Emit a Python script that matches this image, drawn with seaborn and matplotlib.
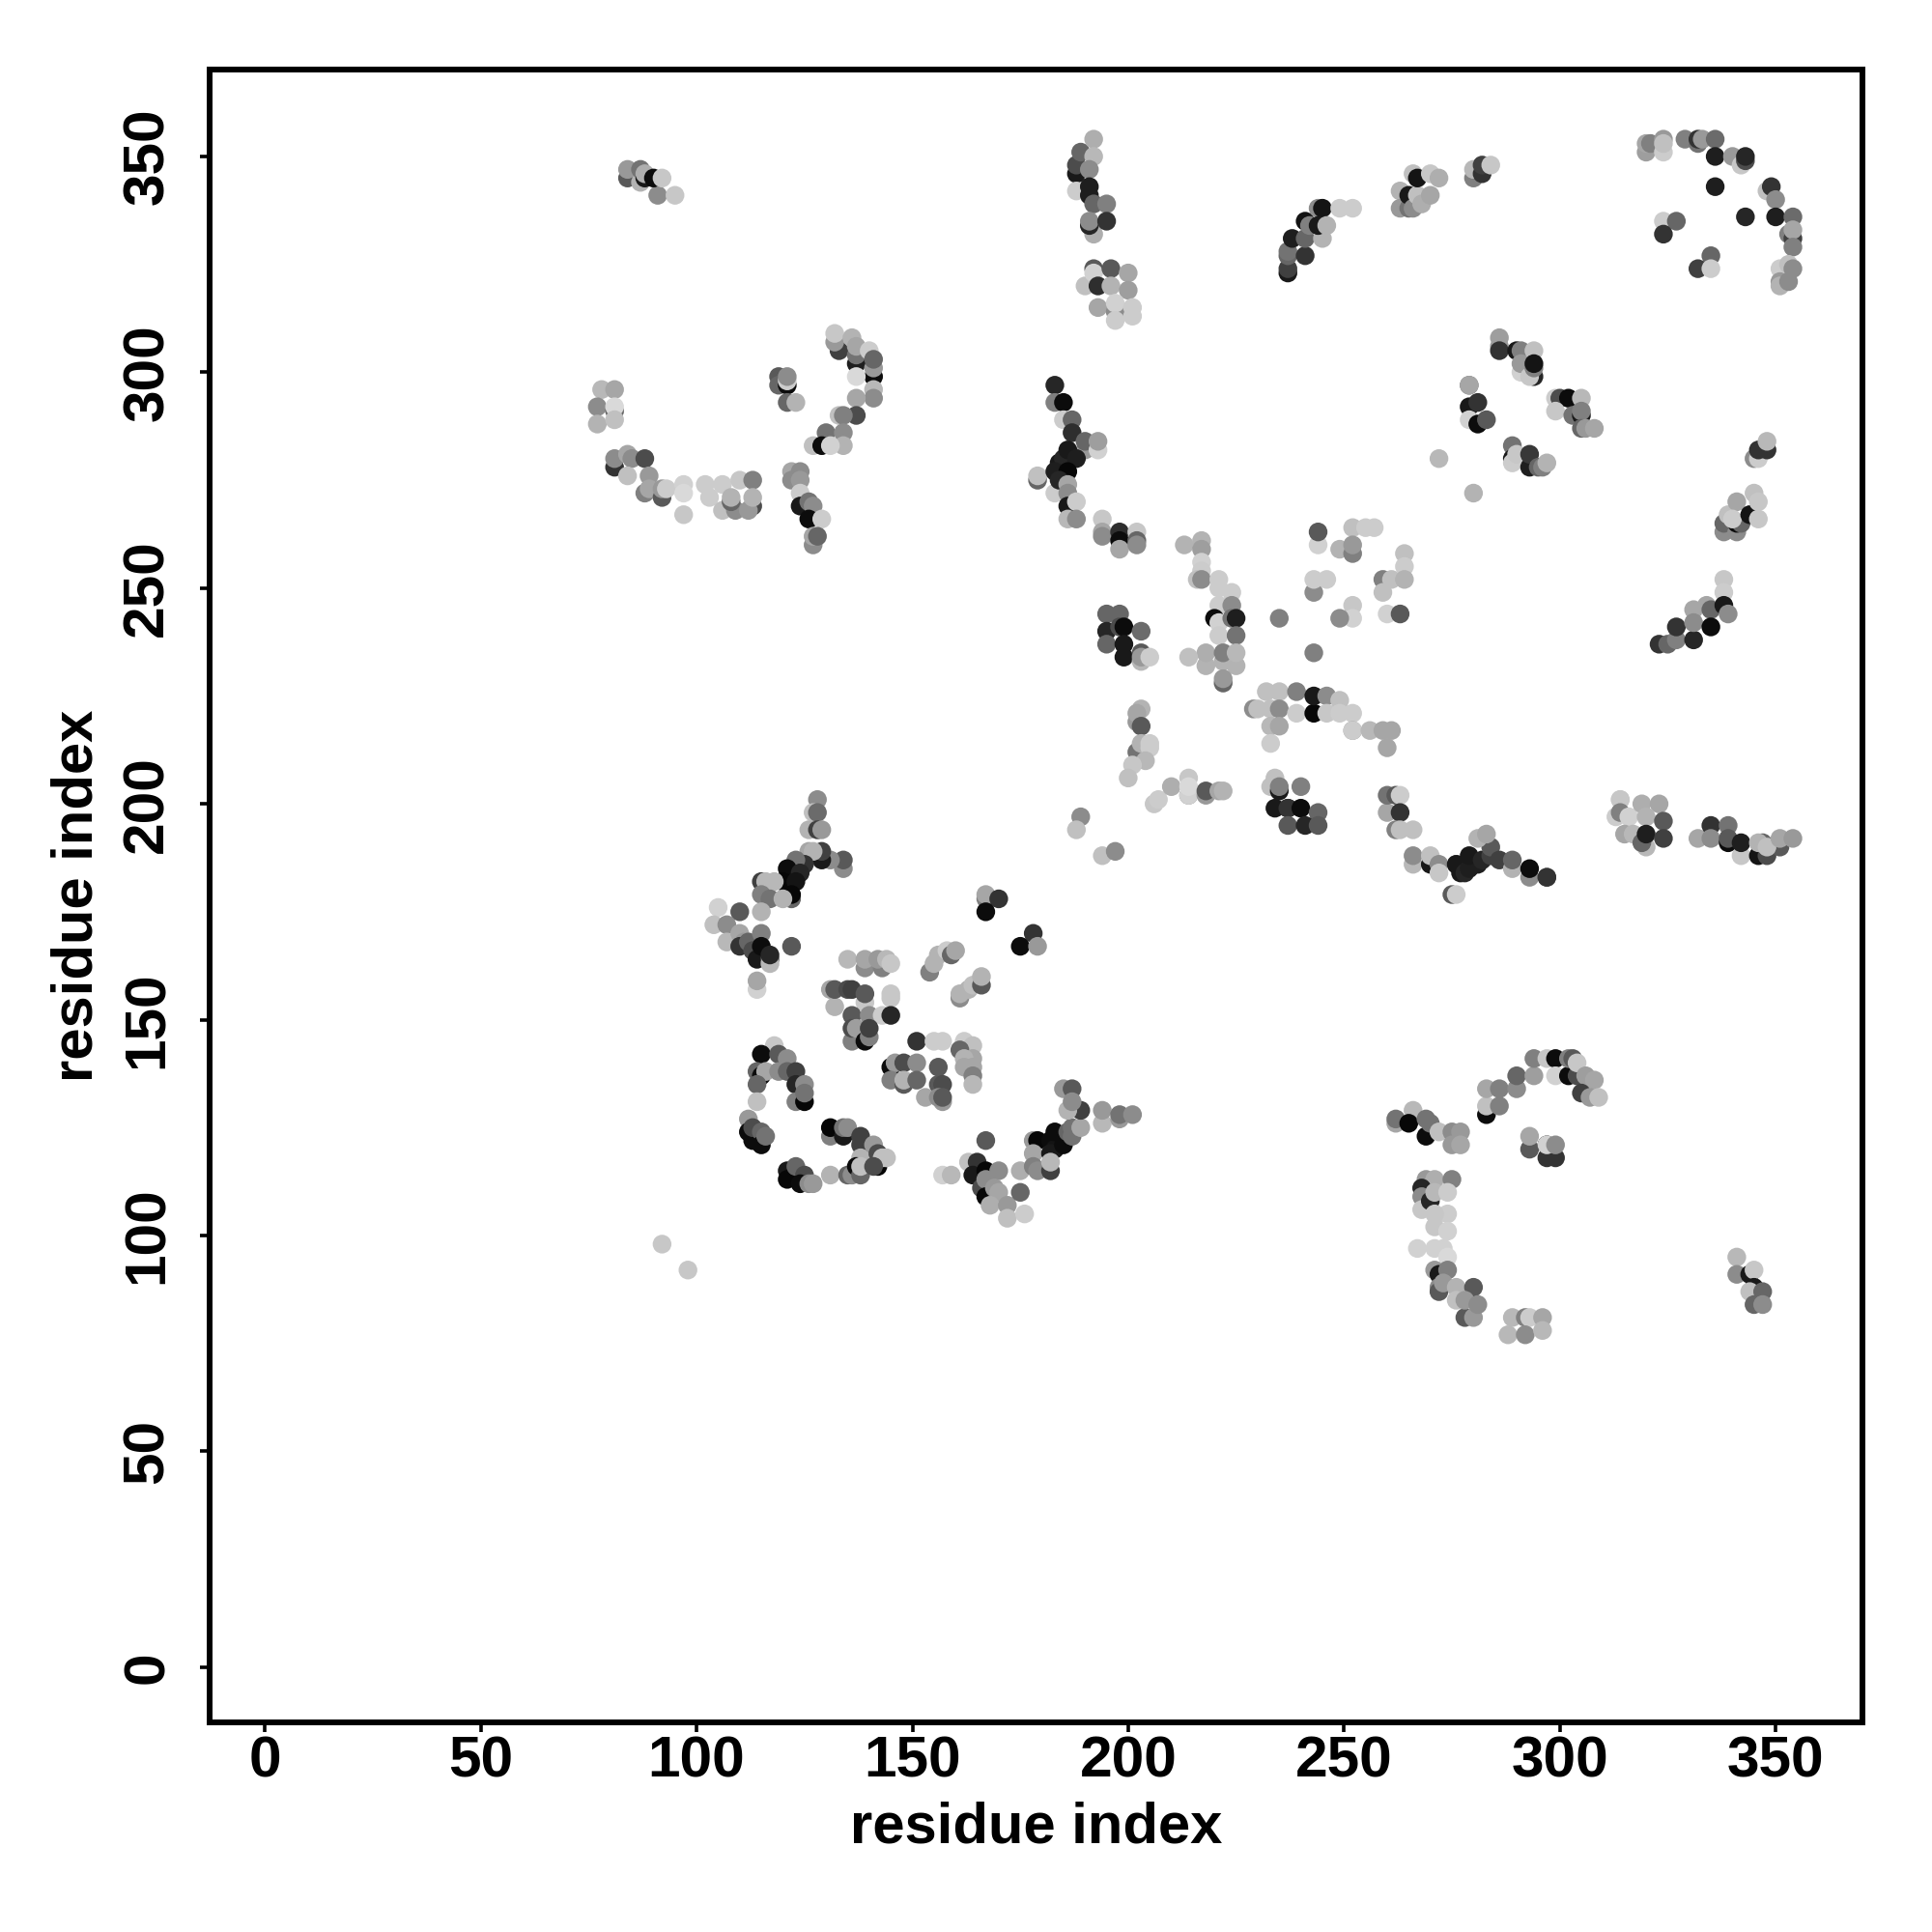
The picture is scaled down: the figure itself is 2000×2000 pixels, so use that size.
import matplotlib
matplotlib.use("Agg")
import matplotlib.pyplot as plt
import pandas as pd
import seaborn as sns

tick_values = [0, 50, 100, 150, 200, 250, 300, 350]
axis_label = "residue index"

# each contact: (residue i, residue j, grey level)
upper_left = [(84,345,.35),(84,347,.6),(87,344,.7),(87,347,.45),(88,345,.1),(88,346,.68),(91,341,.55),(90,345,.05),(92,345,.78),(95,341,.78),
 (78,296,.72),(81,296,.65),(77,292,.55),(81,291,.4),(81,292,.85),(77,288,.7),(81,289,.75),
 (81,278,.2),(81,280,.55),(84,281,.65),(85,280,.55),(88,280,.3),(84,276,.75),(89,276,.6),(88,272,.5),(89,273,.65),(92,271,.35),(92,273,.6),(93,273,.8),(97,274,.82),(97,272,.85),(97,267,.78),
 (102,274,.8),(103,271,.8),(106,274,.8),(106,268,.75),(109,268,.55),(108,270,.4),(108,271,.7),(110,275,.78),(113,269,.3),(112,268,.6),(113,275,.5),(113,271,.7),
 (119,299,.35),(119,297,.4),(121,297,.05),(121,298,.8),(121,299,.55),(121,293,.4),(123,293,.7),
 (133,305,.25),(132,307,.6),(132,309,.78),(136,308,.7),(137,302,.12),(137,304,.45),(137,306,.65),(140,305,.8),(141,299,.05),(141,301,.6),(141,303,.4),(137,299,.85),(141,296,.72),(141,294,.55),(137,294,.65),(137,290,.3),(133,290,.75),(134,290,.5),(130,286,.45),(134,286,.55),(134,283,.7),(127,283,.75),(129,283,.05),(131,283,.82),
 (122,277,.65),(124,277,.55),(122,275,.55),(124,275,.6),(124,272,.8),(124,269,.1),(126,270,.45),(127,269,.55),(126,266,.05),(129,266,.8),(127,260,.55),(127,262,.65),(128,262,.4)]

upper_mid = [(188,346,.1),(188,348,.3),(189,351,.4),(188,342,.8),(192,354,.68),(192,350,.72),(191,347,.55),(191,343,.12),(191,341,.12),(192,339,.4),(195,339,.5),(192,332,.68),(191,334,.15),(191,335,.55),(195,335,.2),
 (190,320,.75),(192,324,.35),(192,323,.82),(193,320,.18),(196,324,.35),(196,320,.7),(200,323,.65),(200,319,.62),(193,315,.65),(197,314,.55),(197,316,.82),(197,312,.8),(201,315,.8),(201,313,.8),
 (179,275,.4),(179,276,.75),(183,297,.15),(183,293,.5),(185,293,.05),(185,289,.8),(187,289,.4),(187,286,.18),(190,282,.6),(190,284,.4),(193,282,.82),(193,284,.62),(183,272,.8),(184,279,.1),(185,280,.15),(186,282,.1),(188,280,.12),(183,277,.12),(186,277,.03),(184,275,.15),(186,274,.65),(186,272,.55),(186,269,.1),(188,270,.8),(186,266,.72),(188,266,.55),
 (194,266,.78),(194,263,.65),(194,262,.55),(198,263,.18),(198,261,.05),(198,259,.65),(202,263,.78),(202,261,.4),(202,260,.55)]

upper_right = [(237,323,.1),(237,324,.25),(237,327,.4),(237,328,.45),(241,327,.2),(238,331,.12),(241,331,.4),(241,335,.08),(242,334,.5),(245,331,.7),(244,338,.55),(245,338,.08),(244,334,.1),(246,334,.7),(249,338,.8),(252,338,.8),
 (263,342,.7),(263,338,.6),(265,338,.45),(265,341,.1),(266,338,.55),(267,341,.75),(268,339,.68),(270,341,.65),(266,346,.75),(267,345,.08),(270,346,.78),(272,345,.68),
 (280,345,.5),(280,347,.72),(282,346,.2),(282,348,.25),(284,348,.78),
 (320,351,.62),(320,353,.65),(321,353,.5),(324,351,.8),(324,354,.6),(324,353,.75),(329,354,.5),(332,353,.45),(332,354,.2),(333,354,.6),(336,354,.42),(336,350,.12),(340,350,.6),(342,348,.78),(343,349,.3),(343,350,.15),
 (336,343,.12),(348,342,.75),(349,343,.2),(350,340,.55),(343,336,.15),(350,336,.12),(354,336,.42),(353,332,.5),(354,331,.25),(354,333,.65),(354,329,.5),
 (324,335,.8),(327,335,.4),(324,332,.2),(335,327,.4),(332,324,.25),(335,324,.8),(351,324,.8),(353,325,.75),(354,324,.55),(351,321,.6),(351,320,.7),(353,321,.55),
 (286,306,.6),(286,308,.62),(286,305,.2),(290,305,.1),(291,305,.5),(291,300,.82),(291,302,.6),(294,305,.75),(294,299,.15),(293,299,.78),(294,301,.5),(294,302,.08),
 (279,297,.4),(279,297,.65),(279,292,.1),(281,293,.2),(279,289,.82),(281,288,.05),(283,289,.35),
 (299,294,.8),(300,294,.3),(302,294,.05),(305,294,.72),(299,291,.78),(303,290,.45),(305,290,.1),(305,291,.5),(305,287,.4),(306,287,.6),(308,287,.65),
 (272,280,.72),(280,272,.7),
 (289,283,.45),(289,280,.1),(289,279,.8),(290,281,.78),(293,278,.12),(293,281,.22),(295,278,.4),(296,278,.5),(297,279,.7),
 (345,280,.55),(346,280,.8),(346,282,.2),(348,282,.2),(348,284,.72),
 (338,263,.55),(338,265,.4),(339,267,.75),(341,263,.55),(341,265,.05),(342,265,.4),(341,270,.65),(340,266,.8),(344,267,.08),(345,272,.75),(346,270,.78),(346,266,.78),
 (338,252,.78),(338,249,.8),(323,237,.2),(325,237,.4),(327,238,.5),(327,241,.2),(331,238,.15),(331,245,.65),(331,242,.55),(334,246,.65),(335,245,.4),(335,241,.05),(338,246,.1),(339,244,.55)]

centre = [(213,260,.7),(217,261,.7),(217,259,.62),(217,256,.82),(217,254,.8),(216,252,.75),(217,252,.55),(221,252,.8),(221,250,.8),(224,249,.8),(221,246,.8),(224,246,.55),
 (220,243,.05),(221,242,.82),(224,243,.45),(225,243,.12),(221,239,.8),(225,239,.45),(218,232,.7),(218,235,.68),(214,234,.75),(222,233,.7),(222,235,.5),(225,232,.7),(225,235,.72),(222,228,.4),(222,229,.6),
 (235,243,.5),(243,235,.5),(244,260,.82),(244,263,.35),(249,259,.7),(252,258,.5),(252,264,.75),(252,260,.6),(257,264,.8),(255,264,.8),(243,249,.55),(243,252,.8),(246,252,.8),(252,246,.78),(252,243,.82),(249,243,.55),(259,252,.5),(261,252,.75),(264,258,.75),(264,255,.8),(264,252,.7),(259,249,.75),(260,244,.82),(263,244,.35),
 (195,244,.4),(198,244,.4),(195,240,.15),(198,241,.3),(199,241,.05),(195,237,.4),(199,237,.1),(199,234,.1),(203,240,.42),(203,233,.72),(203,235,.35),(203,234,.6),(205,234,.8),
 (202,219,.6),(203,222,.7),(202,221,.65),(203,218,.35),(202,212,.45),(203,214,.7),(205,214,.8),(205,213,.8),(204,210,.72),(201,209,.78),(200,206,.75),
 (206,200,.78),(207,201,.8),(210,204,.68),(214,202,.55),(214,206,.78),(214,202,.82),(214,204,.85),(218,202,.6),(218,203,.35),(221,203,.65),(222,203,.7),
 (234,206,.75),(233,204,.75),(235,203,.1),(235,204,.5),(240,204,.5),(234,199,.1),(237,199,.12),(237,199,.2),(240,199,.05),(244,198,.4),(237,195,.35),(241,195,.15),(244,195,.35),
 (260,198,.65),(260,202,.45),(262,202,.35),(263,202,.8),(263,198,.2),(262,194,.5),(263,194,.75),(266,194,.75),
 (229,222,.55),(230,222,.75),(232,226,.75),(235,226,.75),(233,222,.75),(235,222,.55),(233,218,.72),(235,218,.65),(233,214,.8),(239,226,.5),(239,221,.8),(243,221,.03),(243,225,.1),(246,225,.55),(249,224,.75),(246,221,.78),(249,221,.8),(252,221,.8),(252,217,.6),(252,217,.8),(256,217,.72),(259,217,.65),(261,217,.65),(260,213,.65),
 (189,197,.55),(188,194,.75),(194,188,.75),(197,189,.55)]

right_band = [(266,186,.72),(266,188,.55),(270,186,.1),(270,188,.75),(272,186,.55),(272,184,.78),(275,179,.35),(276,179,.8),(276,186,.6),(276,186,.1),(277,184,.1),(278,184,.15),(279,185,.12),(281,186,.12),(279,188,.1),(282,187,.15),(284,188,.25),(284,190,.35),(281,192,.7),(283,193,.65),(286,187,.25),(289,185,.7),(289,187,.4),(293,183,.55),(293,185,.05),(297,183,.4),(297,183,.2),
 (314,201,.8),(314,201,.78),(313,197,.8),(314,198,.5),(316,197,.82),(315,193,.65),(317,193,.72),(319,200,.68),(323,200,.65),(320,190,.72),(319,191,.4),(320,197,.7),(324,196,.35),(320,193,.12),(324,192,.25),
 (332,192,.65),(335,195,.2),(335,192,.55),(339,191,.05),(339,195,.45),(339,192,.35),(342,188,.78),(342,191,.12),(346,188,.08),(348,188,.3),(347,191,.4),(346,191,.7),(351,190,.35),(348,190,.75),(351,192,.65),(354,192,.6)]

lower_left = [(128,201,.55),(127,198,.75),(128,198,.42),(126,194,.7),(128,194,.25),(129,194,.6),
 (134,185,.55),(134,187,.35),(131,187,.55),(129,187,.1),(129,189,.25),(126,189,.65),(127,189,.7),(125,186,.2),(123,187,.45),(121,185,.05),(121,183,.05),(124,184,.15),(120,182,.03),(123,182,.08),(122,178,.4),(122,179,.03),(115,182,.25),(116,182,.72),(118,182,.72),(115,179,.5),(117,178,.45),(120,178,.7),(115,175,.7),
 (105,176,.82),(110,175,.35),(104,172,.75),(107,172,.55),(107,168,.72),(110,170,.65),(111,168,.6),(110,167,.2),(112,168,.4),(113,166,.3),(114,164,.1),(115,170,.5),(115,167,.05),(117,164,.35),(117,163,.72),(117,165,.15),(114,157,.82),(114,159,.65),(122,167,.35),
 (135,164,.72),(139,162,.55),(139,164,.65),(143,162,.5),(142,164,.6),(144,164,.72),(145,163,.78),
 (131,157,.65),(132,153,.7),(132,157,.35),(135,157,.3),(136,157,.25),(139,154,.78),(139,156,.35),(145,156,.78),(145,155,.78),(136,151,.35),(140,151,.55),(143,151,.8),(145,151,.15),(136,145,.5),(136,148,.3),(137,148,.62),(139,145,.05),(140,146,.5),(140,148,.25),
 (118,144,.78),(115,142,.05),(119,142,.35),(121,141,.55),(114,138,.4),(115,137,.05),(116,138,.65),(119,138,.55),(121,138,.4),(123,138,.25),(114,135,.4),(123,135,.15),(125,135,.55),(123,131,.5),(125,131,.03),(114,131,.75),(125,133,.45),
 (112,127,.6),(112,124,.05),(113,122,.05),(113,125,.3),(115,124,.4),(115,121,.05),(116,123,.45),
 (121,115,.1),(121,113,.03),(123,116,.4),(125,114,.3),(124,112,.05),(126,112,.55),(127,112,.6),(131,114,.7),
 (131,123,.5),(131,125,.02),(134,123,.1),(134,125,.45),(135,125,.55),(138,123,.25),(138,121,.25),(138,118,.7),(141,121,.6),(142,116,.02),(142,119,.3),(143,118,.75),(144,118,.75),(135,114,.4),(136,114,.55),(137,116,.05),(138,114,.4),(138,116,.75),(141,116,.3),
 (151,145,.2),(155,145,.8),(157,145,.8),(162,145,.8),(164,144,.75),(161,143,.4),(164,141,.65),(162,141,.7),(162,139,.65),(164,139,.65),(164,137,.5),(164,135,.72),
 (145,139,.05),(146,140,.6),(148,140,.3),(151,140,.55),(145,136,.5),(148,135,.35),(148,136,.7),(151,136,.4),(156,139,.35),(156,135,.35),(157,135,.3),(153,132,.65),(157,131,.6),(156,132,.55),(157,132,.35),
 (154,161,.5),(155,163,.7),(156,165,.7),(158,166,.8),(159,165,.4),(160,166,.65),(161,155,.55),(161,156,.7),(163,157,.7),(164,158,.75),(166,158,.35),(166,160,.7),
 (167,178,.5),(167,179,.65),(170,178,.2),(167,175,.05),(178,170,.2),(175,167,.05),(179,167,.6),
 (167,122,.35),(163,117,.75),(165,117,.2),(164,114,.1),(167,115,.03),(170,115,.55),(166,111,.3),(167,113,.55),(167,109,.03),(169,111,.6),(170,110,.65),(168,107,.68),(172,107,.6),(172,104,.75),(176,105,.8),(175,110,.4),(175,115,.68),(157,114,.82),(159,114,.72),
 (178,122,.6),(179,122,.03),(178,119,.65),(178,116,.5),(179,115,.55),(182,122,.05),(183,120,.08),(182,119,.1),(185,121,.05),(183,124,.05),(182,115,.25),(182,117,.72),(186,124,.4),(187,123,.45),(187,125,.45),(189,125,.65),(189,129,.25),(186,129,.7),(185,134,.6),(187,134,.35),(187,131,.55),
 (194,126,.72),(194,129,.6),(198,127,.6),(198,128,.45),(201,128,.55),
 (92,98,.78),(98,92,.78)]

lower_right = [(262,126,.65),(262,127,.45),(266,129,.72),(265,126,.03),(269,123,.05),(269,127,.45),(270,126,.45),(272,124,.75),(275,124,.55),(277,124,.6),(275,121,.6),(277,121,.65),
 (283,128,.05),(283,130,.75),(283,134,.65),(286,130,.5),(286,134,.5),(290,134,.55),(290,137,.4),(294,137,.62),(294,141,.5),(297,141,.78),(299,141,.05),(299,137,.82),(302,137,.05),(302,141,.5),(303,141,.35),(304,137,.3),(304,140,.78),(306,137,.62),(308,136,.65),(305,133,.25),(307,132,.6),(309,132,.75),
 (293,120,.35),(293,123,.65),(297,118,.2),(299,118,.2),(297,121,.05),(297,121,.82),(299,121,.55),
 (269,113,.6),(271,113,.68),(275,113,.5),(268,111,.15),(268,109,.55),(268,106,.78),(270,108,.15),(271,110,.72),(274,110,.8),(274,105,.8),(271,105,.78),(271,102,.78),(274,101,.82),(267,97,.82),(271,97,.82),(273,97,.82),(274,95,.85),
 (271,92,.6),(272,91,.1),(274,92,.5),(272,88,.55),(272,87,.35),(273,89,.6),(276,88,.7),(280,88,.35),(276,85,.75),(278,81,.35),(278,85,.6),(280,81,.6),(281,84,.55),
 (289,81,.72),(292,81,.5),(293,81,.8),(296,81,.65),(288,77,.72),(292,77,.55),(296,78,.72),
 (341,95,.72),(341,91,.55),(344,91,.1),(345,92,.78),(345,88,.1),(344,87,.75),(347,87,.4),(345,84,.4),(347,84,.55)]

rows = upper_left + upper_mid + upper_right + centre + right_band + lower_left + lower_right
contacts = pd.DataFrame(rows, columns=["i", "j", "grey"])

sns.set_style("white")
plt.rcParams["font.family"] = ["Liberation Sans", "DejaVu Sans"]

fig = plt.figure(figsize=(20, 20), dpi=100)
ax = fig.add_axes([216.8 / 2000, (2000 - 1783) / 2000, 1710.9 / 2000, 1711.3 / 2000])

sns.scatterplot(data=contacts, x="i", y="j", hue="grey", palette="gray", hue_norm=(0, 1),
                s=195, linewidth=0, legend=False, ax=ax, zorder=3)

ax.set_xlim(-12.87, 370.05)
ax.set_ylim(-12.8, 370.2)
ax.set_xticks(tick_values)
ax.set_yticks(tick_values)
ax.set_xticklabels([str(v) for v in tick_values], fontsize=43.5, fontweight="bold", color="black")
ax.set_yticklabels([str(v) for v in tick_values], fontsize=43.5, fontweight="bold", color="black",
                   rotation=90, va="center")
ax.tick_params(axis="both", length=7, width=2.6, color="black", direction="out", bottom=True, left=True)
ax.tick_params(axis="x", pad=3)
ax.tick_params(axis="y", pad=19)
ax.set_xlabel(axis_label, fontsize=43, fontweight="bold", color="black", labelpad=9)
ax.set_ylabel(axis_label, fontsize=43, fontweight="bold", color="black", labelpad=13)
for spine in ax.spines.values():
    spine.set_visible(True)
    spine.set_linewidth(4.3)
    spine.set_color("black")

fig.savefig("out.png", dpi=100, facecolor="white")
